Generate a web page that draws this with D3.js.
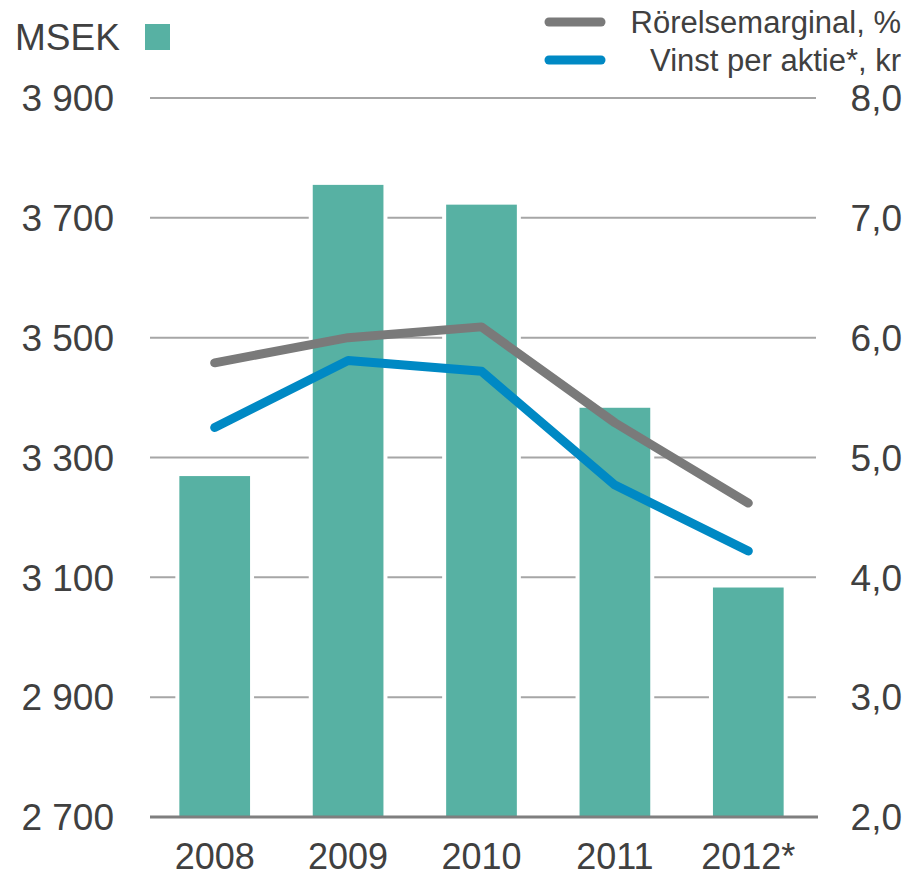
<!DOCTYPE html>
<meta charset="utf-8">
<html lang="sv">
<style>
body { margin: 0; background: #fff; }
text { font-family: "Liberation Sans", Arial, sans-serif; fill: #404040; }
.grid line { stroke: #a6a6a6; stroke-width: 2px; }
.line { fill: none; stroke-width: 9px; stroke-linecap: round; stroke-linejoin: round; }
</style>
<body>
<script src="https://d3js.org/d3.v7.min.js"></script>
<script>

// data
var years = ["2008", "2009", "2010", "2011", "2012*"];
var omsattning = [3269, 3755, 3722, 3383, 3083];      // MSEK, bars
var rorelsemarginal = [5.79, 6.0, 6.09, 5.29, 4.62];  // %, grey line
var vinstPerAktie = [5.25, 5.81, 5.72, 4.77, 4.22];   // kr, blue line
var leftTicks = [2700, 2900, 3100, 3300, 3500, 3700, 3900];
var rightTicks = [2, 3, 4, 5, 6, 7, 8];

var width = 907, height = 877;
var plot = {left: 150, right: 816, top: 98, bottom: 817};

var svg = d3.select("body").append("svg")
    .attr("width", width)
    .attr("height", height);

// scales
var x = d3.scaleBand()
    .domain(years)
    .range([148, 815])
    .paddingInner(0.47)
    .paddingOuter(0.235);
var y = d3.scaleLinear().domain([2700, 3900]).range([plot.bottom, plot.top]);
var y2 = d3.scaleLinear().domain([2, 8]).range([plot.bottom, plot.top]);

// gridlines
svg.append("g")
    .attr("class", "grid")
  .selectAll("line")
  .data(leftTicks.slice(1))
  .enter().append("line")
    .attr("x1", plot.left)
    .attr("x2", plot.right)
    .attr("y1", function(d) { return y(d); })
    .attr("y2", function(d) { return y(d); });

// bars (white outline breaks the gridlines)
svg.append("g")
  .selectAll("rect")
  .data(omsattning)
  .enter().append("rect")
    .attr("x", function(d, i) { return x(years[i]); })
    .attr("width", x.bandwidth())
    .attr("y", function(d) { return y(d); })
    .attr("height", function(d) { return plot.bottom - y(d); })
    .attr("fill", "#57b1a3")
    .attr("stroke", "#fff")
    .attr("stroke-width", 8)
    .style("paint-order", "stroke");

// bottom axis line
svg.append("line")
    .attr("x1", plot.left)
    .attr("x2", plot.right + 2)
    .attr("y1", plot.bottom)
    .attr("y2", plot.bottom)
    .attr("stroke", "#7f7f7f")
    .attr("stroke-width", 3);

// lines
var cx = function(d, i) { return x(years[i]) + x.bandwidth() / 2; };
var line = d3.line().x(cx).y(function(d) { return y2(d); });

svg.append("path")
    .datum(rorelsemarginal)
    .attr("class", "line")
    .attr("stroke", "#7a7a7a")
    .attr("d", line);

svg.append("path")
    .datum(vinstPerAktie)
    .attr("class", "line")
    .attr("stroke", "#0089c4")
    .attr("d", line);

// left axis labels
svg.append("g")
  .selectAll("text")
  .data(leftTicks)
  .enter().append("text")
    .attr("x", 114)
    .attr("y", function(d) { return y(d); })
    .attr("dy", "0.36em")
    .attr("text-anchor", "end")
    .style("font-size", "37px")
    .text(function(d) { return d3.format(",")(d).replace(",", " "); });

// right axis labels
svg.append("g")
  .selectAll("text")
  .data(rightTicks)
  .enter().append("text")
    .attr("x", 902)
    .attr("y", function(d) { return y2(d); })
    .attr("dy", "0.36em")
    .attr("text-anchor", "end")
    .style("font-size", "37px")
    .text(function(d) { return d3.format(".1f")(d).replace(".", ","); });

// x labels
svg.append("g")
  .selectAll("text")
  .data(years)
  .enter().append("text")
    .attr("x", function(d) { return x(d) + x.bandwidth() / 2; })
    .attr("y", 869)
    .attr("text-anchor", "middle")
    .style("font-size", "36px")
    .text(function(d) { return d; });

// left unit + legend square
svg.append("text")
    .attr("x", 15)
    .attr("y", 50)
    .style("font-size", "37px")
    .text("MSEK");
svg.append("rect")
    .attr("x", 145)
    .attr("y", 24)
    .attr("width", 25)
    .attr("height", 26)
    .attr("fill", "#57b1a3");

// line legend
var legend = [
  {name: "Rörelsemarginal, %", color: "#7a7a7a", y: 22},
  {name: "Vinst per aktie*, kr", color: "#0089c4", y: 60}
];
var lg = svg.append("g").selectAll("g").data(legend).enter().append("g");
lg.append("line")
    .attr("x1", 549).attr("x2", 601)
    .attr("y1", function(d) { return d.y; })
    .attr("y2", function(d) { return d.y; })
    .attr("stroke", function(d) { return d.color; })
    .attr("stroke-width", 9)
    .attr("stroke-linecap", "round");
lg.append("text")
    .attr("x", 901)
    .attr("y", function(d) { return d.y; })
    .attr("dy", "0.36em")
    .attr("text-anchor", "end")
    .style("font-size", "31px")
    .text(function(d) { return d.name; });

</script>
</body>
</html>
